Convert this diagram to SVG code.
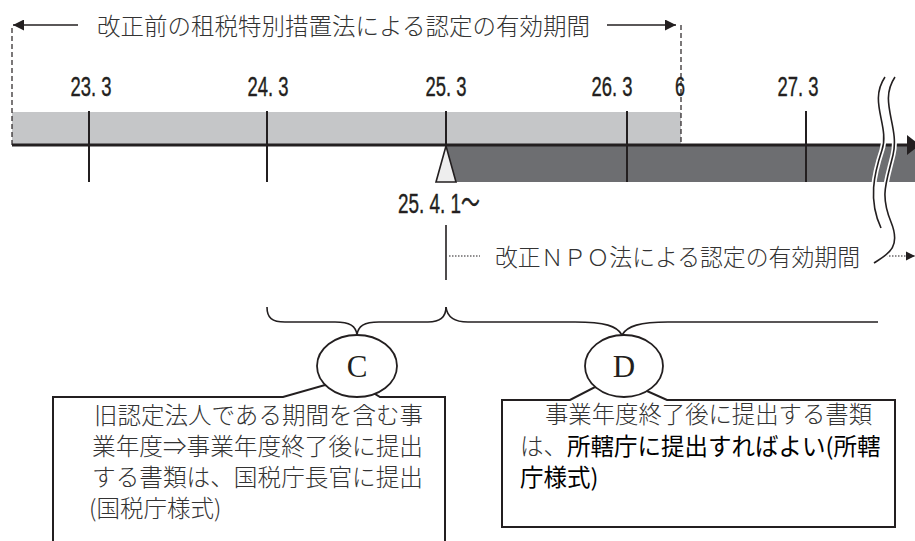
<svg xmlns="http://www.w3.org/2000/svg" width="915" height="541" viewBox="0 0 915 541">
<style>
.jp{font-family:"Noto Sans CJK JP","Noto Sans",sans-serif;font-size:23.5px;fill:#333;font-weight:300}
.jpb{font-family:"Noto Sans CJK JP","Noto Sans",sans-serif;font-size:23.5px;fill:#000}
.num{font-family:"Liberation Sans","Noto Sans CJK JP",sans-serif;font-size:28px;fill:#231f20;text-anchor:middle;stroke:#231f20;stroke-width:0.4}
.ltr{font-family:"Liberation Serif","Times New Roman",serif;font-size:31px;fill:#231f20;text-anchor:middle}
.tk{stroke:#231f20;stroke-width:2}
.ln{stroke:#231f20;stroke-width:1.6;fill:none}
.dash{stroke:#231f20;stroke-width:1.2;stroke-dasharray:5 3;fill:none}
.dot{stroke:#231f20;stroke-width:1.2;stroke-dasharray:1.5 1.5;fill:none}
.box{fill:#fff;stroke:#231f20;stroke-width:2}
</style>
<defs>
<marker id="ah" viewBox="0 0 10 10" refX="10" refY="5" markerUnits="userSpaceOnUse" markerWidth="17" markerHeight="11" orient="auto">
<path d="M0,0 L10,5 L0,10 z" fill="#231f20"/>
</marker>
<marker id="ahs" viewBox="0 0 10 10" refX="10" refY="5" markerUnits="userSpaceOnUse" markerWidth="9" markerHeight="11" orient="auto">
<path d="M0,0 L10,5 L0,10 z" fill="#231f20"/>
</marker>
</defs>
<rect width="915" height="541" fill="#fff"/>

<g id="timeline">
<rect x="12" y="112" width="669" height="33" fill="#c5c6c8"/>
<rect x="446" y="145" width="469" height="37" fill="#6d6e71"/>
<line class="tk" x1="89" y1="111" x2="89" y2="182"/>
<line class="tk" x1="267" y1="111" x2="267" y2="182"/>
<line class="tk" x1="446" y1="111" x2="446" y2="182"/>
<line class="tk" x1="627" y1="111" x2="627" y2="182"/>
<line class="tk" x1="806" y1="111" x2="806" y2="182"/>
<line x1="12" y1="145" x2="910" y2="145" stroke="#231f20" stroke-width="3"/>
<polygon points="907,135 920,145 907,155" fill="#231f20"/>
<polygon points="446,146 436,182 456,182" fill="#eeeeee" stroke="#231f20" stroke-width="1.6"/>
<line class="dash" x1="12" y1="28" x2="12" y2="145"/>
<line class="dash" x1="681" y1="25" x2="681" y2="145"/>
</g>

<g id="old-period">
<line class="ln" x1="78" y1="25" x2="13" y2="25" marker-end="url(#ah)"/>
<text class="jp" x="97" y="35" textLength="493" lengthAdjust="spacingAndGlyphs">改正前の租税特別措置法による認定の有効期間</text>
<line class="ln" x1="607" y1="25" x2="676" y2="25" marker-end="url(#ah)"/>
</g>

<g id="labels">
<text class="num" x="91" y="96" textLength="41" lengthAdjust="spacingAndGlyphs">23. 3</text>
<text class="num" x="268" y="96" textLength="41" lengthAdjust="spacingAndGlyphs">24. 3</text>
<text class="num" x="446" y="96" textLength="41" lengthAdjust="spacingAndGlyphs">25. 3</text>
<text class="num" x="612" y="96" textLength="41" lengthAdjust="spacingAndGlyphs">26. 3</text>
<text class="num" x="680" y="96" textLength="10" lengthAdjust="spacingAndGlyphs">6</text>
<text class="num" x="798" y="96" textLength="41" lengthAdjust="spacingAndGlyphs">27. 3</text>
<text class="num" x="398" y="213" style="text-anchor:start" textLength="82" lengthAdjust="spacingAndGlyphs">25. 4. 1～</text>
</g>

<g id="new-period">
<line class="ln" x1="446" y1="225" x2="446" y2="280"/>
<line class="dot" x1="449" y1="256" x2="480" y2="256"/>
<text class="jp" x="495" y="266" textLength="365" lengthAdjust="spacingAndGlyphs">改正ＮＰＯ法による認定の有効期間</text>
<line class="dot" x1="886" y1="256" x2="915" y2="256" marker-end="url(#ahs)"/>
</g>

<g id="break">
<path d="M885,77 C868,102 890,126 882,150 S868,200 881,228" fill="none" stroke="#fff" stroke-width="5"/>
<path d="M895,77 C878,102 900,126 893,155 S880,195 891,222 S886,255 874,263" fill="none" stroke="#fff" stroke-width="5"/>
<path d="M885,77 C868,102 890,126 882,150 S868,200 881,228" class="ln" stroke-width="1.5"/>
<path d="M895,77 C878,102 900,126 893,155 S880,195 891,222 S886,255 874,263" class="ln" stroke-width="1.5"/>
</g>

<g id="connectors">
<path class="ln" d="M267,307 C267,318 272,322 285,322 L335,322 C350,322 356,326 357,335 C358,326 364,322 379,322 L428,322 C441,322 446,316 446,307"/>
<path class="ln" d="M446,307 C447,316 453,322 468,322 L575,322 C605,322 617,326 622,335 C627,326 640,322 668,322 L878,322"/>
</g>

<g id="node-C">
<path class="box" d="M53,545 L53,397 L283,397 L325,385 L375,394 L380,397 L445,397 L445,545"/>
<ellipse cx="357" cy="366" rx="40" ry="31" fill="#fff" stroke="#231f20" stroke-width="1.8"/>
<text class="ltr" x="357" y="377">C</text>
<text class="jp" x="94" y="424" textLength="329" lengthAdjust="spacingAndGlyphs">旧認定法人である期間を含む事</text>
<text class="jp" x="92" y="455" textLength="331" lengthAdjust="spacingAndGlyphs">業年度⇒事業年度終了後に提出</text>
<text class="jp" x="92" y="486" textLength="331" lengthAdjust="spacingAndGlyphs">する書類は、国税庁長官に提出</text>
<text class="jp" x="89" y="517">(国税庁様式)</text>
</g>

<g id="node-D">
<path class="box" d="M502,400 L570,400 L595,387 L647,391 L667,400 L895,400 L895,527 L502,527 Z"/>
<ellipse cx="624" cy="366" rx="39" ry="31" fill="#fff" stroke="#231f20" stroke-width="1.8"/>
<text class="ltr" x="624" y="377">D</text>
<text class="jp" x="545" y="423" textLength="327" lengthAdjust="spacingAndGlyphs">事業年度終了後に提出する書類</text>
<text x="520" y="455"><tspan class="jp">は、</tspan><tspan class="jpb">所轄庁に提出すればよい(所轄</tspan></text>
<text class="jpb" x="520" y="486">庁様式)</text>
</g>
</svg>
